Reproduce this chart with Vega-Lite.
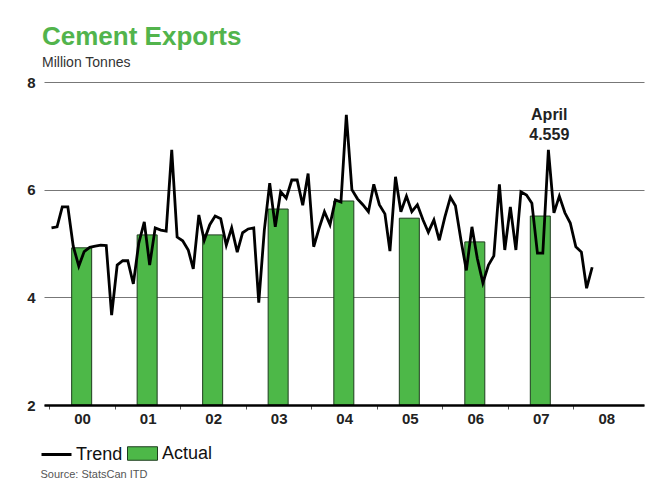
{
  "$schema": "https://vega.github.io/schema/vega-lite/v6.json",
  "width": 600,
  "height": 323,
  "autosize": "none",
  "padding": {"left": 44, "top": 82, "right": 18, "bottom": 76},
  "background": "white",
  "config": {"view": {"stroke": null}},
  "title": {
    "text": "Cement Exports",
    "subtitle": "Million Tonnes",
    "anchor": "start",
    "frame": "group",
    "font": "Liberation Sans",
    "fontSize": 26,
    "fontWeight": "bold",
    "color": "#52b44c",
    "subtitleFont": "Liberation Sans",
    "subtitleFontSize": 14,
    "subtitleColor": "#333333",
    "subtitlePadding": 6,
    "offset": 5,
    "dx": -2
  },
  "datasets": {
    "actual": [
      {"date": "2000-07-01", "exports": 4.92},
      {"date": "2001-07-01", "exports": 5.16},
      {"date": "2002-07-01", "exports": 5.16},
      {"date": "2003-07-01", "exports": 5.64},
      {"date": "2004-07-01", "exports": 5.79},
      {"date": "2005-07-01", "exports": 5.47},
      {"date": "2006-07-01", "exports": 5.03},
      {"date": "2007-07-01", "exports": 5.51}
    ],
    "trend": [
      {"date": "2000-01-15", "exports": 5.29},
      {"date": "2000-02-15", "exports": 5.31},
      {"date": "2000-03-15", "exports": 5.68},
      {"date": "2000-04-15", "exports": 5.68},
      {"date": "2000-05-15", "exports": 4.95},
      {"date": "2000-06-15", "exports": 4.58},
      {"date": "2000-07-15", "exports": 4.85},
      {"date": "2000-08-15", "exports": 4.93},
      {"date": "2000-09-15", "exports": 4.95},
      {"date": "2000-10-15", "exports": 4.97},
      {"date": "2000-11-15", "exports": 4.96},
      {"date": "2000-12-15", "exports": 3.67},
      {"date": "2001-01-15", "exports": 4.6},
      {"date": "2001-02-15", "exports": 4.68},
      {"date": "2001-03-15", "exports": 4.68},
      {"date": "2001-04-15", "exports": 4.25},
      {"date": "2001-05-15", "exports": 5.0},
      {"date": "2001-06-15", "exports": 5.4},
      {"date": "2001-07-15", "exports": 4.6},
      {"date": "2001-08-15", "exports": 5.29},
      {"date": "2001-09-15", "exports": 5.25},
      {"date": "2001-10-15", "exports": 5.23},
      {"date": "2001-11-15", "exports": 6.74},
      {"date": "2001-12-15", "exports": 5.12},
      {"date": "2002-01-15", "exports": 5.05},
      {"date": "2002-02-15", "exports": 4.88},
      {"date": "2002-03-15", "exports": 4.53},
      {"date": "2002-04-15", "exports": 5.53},
      {"date": "2002-05-15", "exports": 5.06},
      {"date": "2002-06-15", "exports": 5.35},
      {"date": "2002-07-15", "exports": 5.51},
      {"date": "2002-08-15", "exports": 5.46},
      {"date": "2002-09-15", "exports": 4.97},
      {"date": "2002-10-15", "exports": 5.29},
      {"date": "2002-11-15", "exports": 4.84},
      {"date": "2002-12-15", "exports": 5.2},
      {"date": "2003-01-15", "exports": 5.27},
      {"date": "2003-02-15", "exports": 5.29},
      {"date": "2003-03-15", "exports": 3.9},
      {"date": "2003-04-15", "exports": 5.25},
      {"date": "2003-05-15", "exports": 6.12},
      {"date": "2003-06-15", "exports": 5.31},
      {"date": "2003-07-15", "exports": 5.96},
      {"date": "2003-08-15", "exports": 5.84},
      {"date": "2003-09-15", "exports": 6.18},
      {"date": "2003-10-15", "exports": 6.18},
      {"date": "2003-11-15", "exports": 5.71},
      {"date": "2003-12-15", "exports": 6.3},
      {"date": "2004-01-15", "exports": 4.94},
      {"date": "2004-02-15", "exports": 5.29},
      {"date": "2004-03-15", "exports": 5.59},
      {"date": "2004-04-15", "exports": 5.35},
      {"date": "2004-05-15", "exports": 5.81},
      {"date": "2004-06-15", "exports": 5.77},
      {"date": "2004-07-15", "exports": 7.39},
      {"date": "2004-08-15", "exports": 6.0},
      {"date": "2004-09-15", "exports": 5.83},
      {"date": "2004-10-15", "exports": 5.72},
      {"date": "2004-11-15", "exports": 5.59},
      {"date": "2004-12-15", "exports": 6.1},
      {"date": "2005-01-15", "exports": 5.72},
      {"date": "2005-02-15", "exports": 5.55},
      {"date": "2005-03-15", "exports": 4.86},
      {"date": "2005-04-15", "exports": 6.24},
      {"date": "2005-05-15", "exports": 5.59},
      {"date": "2005-06-15", "exports": 5.88},
      {"date": "2005-07-15", "exports": 5.59},
      {"date": "2005-08-15", "exports": 5.72},
      {"date": "2005-09-15", "exports": 5.44},
      {"date": "2005-10-15", "exports": 5.21},
      {"date": "2005-11-15", "exports": 5.44},
      {"date": "2005-12-15", "exports": 5.06},
      {"date": "2006-01-15", "exports": 5.49},
      {"date": "2006-02-15", "exports": 5.86},
      {"date": "2006-03-15", "exports": 5.7},
      {"date": "2006-04-15", "exports": 5.06},
      {"date": "2006-05-15", "exports": 4.5},
      {"date": "2006-06-15", "exports": 5.31},
      {"date": "2006-07-15", "exports": 4.72},
      {"date": "2006-08-15", "exports": 4.27},
      {"date": "2006-09-15", "exports": 4.6},
      {"date": "2006-10-15", "exports": 4.77},
      {"date": "2006-11-15", "exports": 6.1},
      {"date": "2006-12-15", "exports": 4.88},
      {"date": "2007-01-15", "exports": 5.68},
      {"date": "2007-02-15", "exports": 4.88},
      {"date": "2007-03-15", "exports": 5.96},
      {"date": "2007-04-15", "exports": 5.9},
      {"date": "2007-05-15", "exports": 5.75},
      {"date": "2007-06-15", "exports": 4.82},
      {"date": "2007-07-15", "exports": 4.82},
      {"date": "2007-08-15", "exports": 6.74},
      {"date": "2007-09-15", "exports": 5.57},
      {"date": "2007-10-15", "exports": 5.88},
      {"date": "2007-11-15", "exports": 5.57},
      {"date": "2007-12-15", "exports": 5.38},
      {"date": "2008-01-15", "exports": 4.94},
      {"date": "2008-02-15", "exports": 4.84},
      {"date": "2008-03-15", "exports": 4.17},
      {"date": "2008-04-15", "exports": 4.559}
    ]
  },
  "layer": [
    {
      "data": {"name": "actual"},
      "mark": {"type": "bar", "width": 20, "stroke": "#1e3d1e", "strokeWidth": 1},
      "encoding": {
        "x": {
          "field": "date",
          "type": "temporal",
          "scale": {
            "type": "utc",
            "domain": [
              {"year": 2000, "month": 1, "date": 1, "utc": true},
              {"year": 2009, "month": 1, "date": 1, "utc": true}
            ]
          },
          "axis": {
            "values": [
              {"year": 2000, "utc": true}, {"year": 2001, "utc": true}, {"year": 2002, "utc": true},
              {"year": 2003, "utc": true}, {"year": 2004, "utc": true}, {"year": 2005, "utc": true},
              {"year": 2006, "utc": true}, {"year": 2007, "utc": true}, {"year": 2008, "utc": true}
            ],
            "labelExpr": "utcFormat(datum.value, '%y')",
            "labelOffset": 33,
            "labelFlush": false,
            "labelOverlap": false,
            "grid": false,
            "zindex": 1,
            "domainColor": "#000000",
            "domainWidth": 2.5,
            "tickColor": "#555555",
            "tickSize": 4,
            "labelFont": "Liberation Sans",
            "labelFontSize": 15,
            "labelFontWeight": "bold",
            "labelColor": "#222222",
            "labelPadding": 2,
            "title": "Source: StatsCan ITD",
            "titleFont": "Liberation Sans",
            "titleFontSize": 11,
            "titleFontWeight": "normal",
            "titleColor": "#555555",
            "titleAnchor": "start",
            "titleAlign": "left",
            "titleX": -4,
            "titleY": 72,
            "titleBaseline": "alphabetic"
          }
        },
        "y": {
          "field": "exports",
          "type": "quantitative",
          "scale": {"domain": [2, 8]},
          "axis": {
            "values": [2, 4, 6, 8],
            "format": "d",
            "grid": true,
            "gridColor": "#777777",
            "gridWidth": 1,
            "domain": false,
            "ticks": false,
            "labelPadding": 9,
            "labelFont": "Liberation Sans",
            "labelFontSize": 15,
            "labelFontWeight": "bold",
            "labelColor": "#222222",
            "title": null
          }
        },
        "y2": {"datum": 2},
        "fill": {
          "datum": "Actual",
          "scale": {"domain": ["Actual"], "range": ["#4db848"]},
          "legend": {
            "orient": "none",
            "legendX": 83,
            "legendY": 356,
            "title": null,
            "padding": 0,
            "labelFont": "Liberation Sans",
            "labelFontSize": 18,
            "labelColor": "#111111",
            "symbolType": "M-1,-0.45H1V0.45H-1Z",
            "symbolSize": 900,
            "symbolStrokeColor": "#1e3d1e",
            "symbolStrokeWidth": 1,
            "symbolOpacity": 1,
            "labelOffset": 4
          }
        }
      }
    },
    {
      "data": {"name": "trend"},
      "mark": {"type": "line", "strokeWidth": 2.8},
      "encoding": {
        "x": {"field": "date", "type": "temporal"},
        "y": {"field": "exports", "type": "quantitative"},
        "stroke": {
          "datum": "Trend",
          "scale": {"domain": ["Trend"], "range": ["#000000"]},
          "legend": {
            "orient": "none",
            "legendX": -4,
            "legendY": 356,
            "title": null,
            "padding": 0,
            "labelFont": "Liberation Sans",
            "labelFontSize": 18,
            "labelColor": "#111111",
            "symbolType": "stroke",
            "symbolSize": 900,
            "symbolStrokeWidth": 3,
            "labelOffset": 3
          }
        }
      }
    },
    {
      "data": {"values": [{}]},
      "mark": {
        "type": "text",
        "font": "Liberation Sans",
        "fontSize": 16,
        "fontWeight": "bold",
        "color": "#222222",
        "baseline": "bottom",
        "align": "center",
        "lineHeight": 20
      },
      "encoding": {
        "x": {"datum": {"year": 2007, "month": 8, "date": 20, "utc": true}, "type": "temporal"},
        "y": {"datum": 7.24, "type": "quantitative"},
        "text": {"value": ["April", "4.559"]}
      }
    }
  ]
}
